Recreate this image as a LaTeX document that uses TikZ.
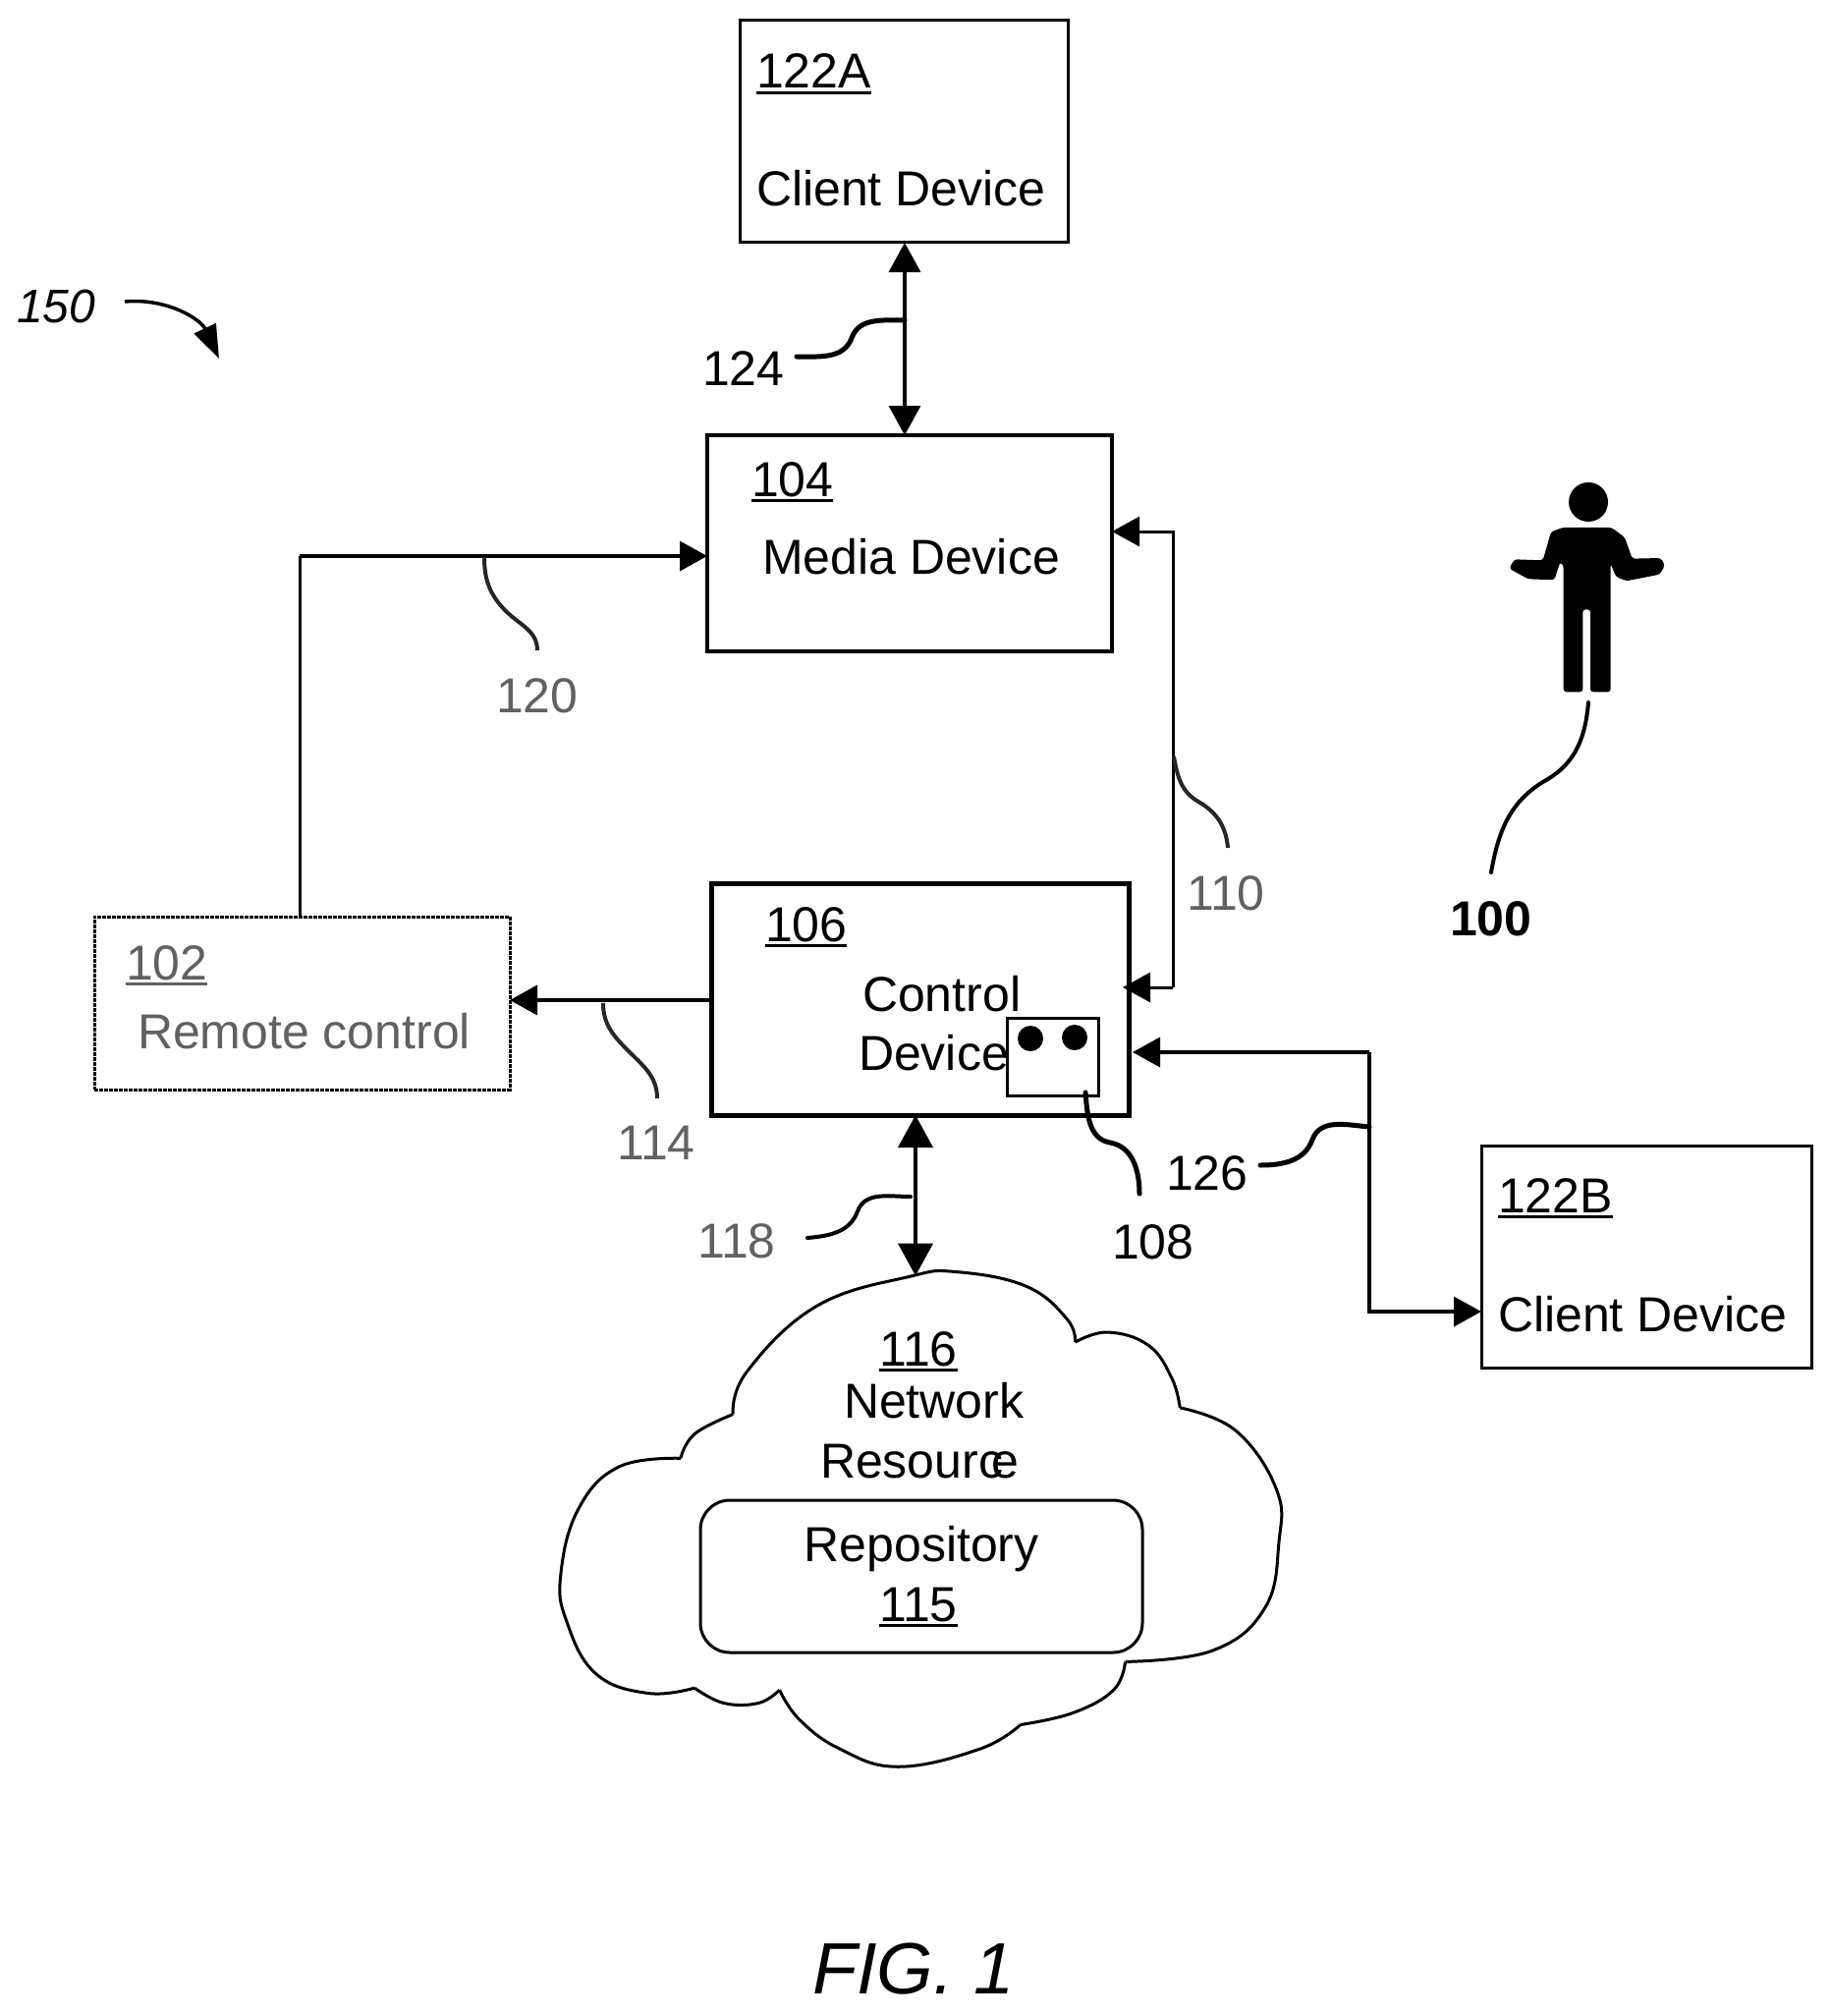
\documentclass[tikz,border=0pt]{standalone}
\usepackage{fontspec}
\setmainfont{Liberation Sans}
\usetikzlibrary{arrows.meta}
\newcommand\ulnum[1]{\setbox0\hbox{#1}\rlap{\rule[-6pt]{\wd0}{3pt}}\box0}
\tikzset{
  boxa/.style={draw=black,line width=3pt,anchor=north west,inner sep=0pt,outer sep=0pt},
  boxb/.style={boxa,line width=4pt},
  boxc/.style={boxa,line width=5pt},
  boxd/.style={boxa,line width=3pt,dash pattern=on 4pt off 1pt},
  txt/.style={anchor=base west,inner sep=0pt,outer sep=0pt,xshift=-3pt,yshift=3pt,font=\fontsize{50}{50}\selectfont},
  txtc/.style={txt,anchor=base},
  grain/.style={text=black!62},
  wire/.style={draw=black,line width=3pt},
  tip/.style={-{Triangle[length=28pt,width=30pt]}},
  tips/.style={{Triangle[length=30pt,width=32pt]}-{Triangle[length=30pt,width=32pt]}},
  lead/.style={draw=black,line width=5pt,line cap=round},
  leadg/.style={draw=black!85,line width=4pt},
  cloudline/.style={draw=black,line width=3pt,line join=round}
}
\begin{document}
\begin{tikzpicture}[x=1pt,y=-1pt]
\useasboundingbox (0,0) rectangle (1863,2052);
% boxes
\node[boxa,minimum width=334pt,minimum height=226pt] (c122a) at (753,21) {};
\node[boxb,minimum width=412pt,minimum height=220pt] (d104) at (720,443) {};
\node[boxc,minimum width=425pt,minimum height=236pt] (d106) at (724,899) {};
\node[boxd,minimum width=423pt,minimum height=176pt] (d102) at (96,933) {};
\node[boxa,minimum width=336pt,minimum height=226pt] (c122b) at (1508,1166) {};
\node[boxa,minimum width=93pt,minimum height=79pt] (d108) at (1025,1036) {};
\node[boxa,rounded corners=30pt,minimum width=450pt,minimum height=155pt] (repo) at (713,1527) {};
\fill (1049,1057) circle (13pt) (1094,1056) circle (13pt);
% texts
\node[txt] (t122a) at (773,93) {\ulnum{122A}};
\node[txt] (t122al) at (773,213) {Client Device};
\node[txt] (t104) at (768,508) {\ulnum{104}};
\node[txt] (t104l) at (779,587) {Media Device};
\node[txt] (t106) at (782,961) {\ulnum{106}};
\node[txt] (t106a) at (881,1032) {Control};
\node[txt] (t106b) at (877,1092) {Device};
\node[txt,grain] (t102) at (131,1000) {\ulnum{102}};
\node[txt,grain] (t102l) at (143,1070) {Remote control};
\node[txt] (t122b) at (1528,1237) {\ulnum{122B}};
\node[txt] (t122bl) at (1528,1358) {Client Device};
\node[txt] (t116) at (898,1393) {\ulnum{116}};
\node[txt] (t116a) at (862,1446) {Network};
\node[txt] (t116b) at (838,1507) {Resourc\kern-12pt e};
\node[txtc] (t115a) at (941,1592) {Repository};
\node[txt] (t115) at (898,1653) {\ulnum{115}};
\node[txt,font=\fontsize{48}{48}\selectfont\itshape] (t150) at (20,331) {150};
\node[txt] (t124) at (718,395) {124};
\node[txt,grain] (t120) at (508,728) {120};
\node[txt,grain] (t110) at (1211,929) {110};
\node[txt,font=\fontsize{50}{50}\selectfont\bfseries] (t100) at (1479,955) {100};
\node[txt,grain] (t114) at (631,1183) {114};
\node[txt] (t126) at (1190,1214) {126};
\node[txt] (t108) at (1135,1284) {108};
\node[txt,grain] (t118) at (713,1283) {118};
\node[txt,font=\fontsize{74}{74}\selectfont\itshape] (tfig) at (830,2032) {FIG. 1};
% cloud
\begin{scope}[shift={(2,1002)},x=1.185pt,y=-0.668pt]
\draw[cloudline] plot[smooth,tension=.7] coordinates {(628,655)(640,590)(700,490)(780,445)(820,438)(880,460)(915,510)(922,545)};
\draw[cloudline] plot[smooth,tension=.7] coordinates {(922,545)(950,530)(985,550)(1005,600)(1012,645)};
\draw[cloudline] plot[smooth,tension=.7] coordinates {(1012,645)(1060,680)(1095,770)(1097,850)(1085,950)(1040,1015)(965,1032)};
\draw[cloudline] plot[smooth,tension=.7] coordinates {(965,1032)(955,1075)(920,1110)(875,1128)};
\draw[cloudline] plot[smooth,tension=.7] coordinates {(875,1128)(840,1165)(770,1192)(720,1165)(685,1120)(668,1075)};
\draw[cloudline] plot[smooth,tension=.7] coordinates {(668,1075)(650,1095)(620,1095)(595,1072)};
\draw[cloudline] plot[smooth,tension=.7] coordinates {(595,1072)(555,1080)(510,1050)(485,970)(480,900)(495,800)(530,735)(583,722)};
\draw[cloudline] plot[smooth,tension=.7] coordinates {(583,722)(595,685)(628,655)};
\coordinate (cloudtop) at (784,444);
\end{scope}
% connectors
\coordinate (a122) at (921,247);
\draw[wire,line width=3.5pt,tips] (c122a.south -| a122) -- (d104.north -| a122);
\coordinate (r1) at (305,566);
\draw[wire] (d102.north -| r1) -- (r1);
\draw[wire,line width=3.5pt,tip] (r1) -- (d104.west |- r1);
\coordinate (f1) at (1194,541);
\coordinate (f2) at (1194,1005);
\coordinate (f3) at (1143,1005);
\draw[wire,tip] (f2) -- (f3);
\draw[wire,tip] (f2) -- (f1) -- (f1 -| d104.east);
\coordinate (q1) at (724,1018);
\draw[wire,line width=3.5pt,tip] (q1) -- (q1 -| d102.east);
\coordinate (n1) at (932,1136);
\draw[wire,line width=4pt,{Triangle[length=33pt,width=35pt]}-{Triangle[length=33pt,width=35pt]}] (d106.south -| n1) -- (cloudtop -| n1);
\coordinate (k1) at (1394,1071);
\coordinate (k2) at (1394,1335);
\coordinate (k0) at (1153,1071);
\draw[wire,line width=3.5pt,tip] (k1) -- (k0);
\draw[wire,line width=3.5pt,tip] (k1) -- (k2) -- (k2 -| c122b.west);
% leaders
\coordinate (l124a) at (921,326); \coordinate (l124b) at (867,344); \coordinate (l124c) at (811,363);
\draw[lead] (l124a) to[out=180,in=70] (l124b) to[out=250,in=0] (l124c);
\coordinate (l120a) at (493,567); \coordinate (l120b) at (515,622); \coordinate (l120c) at (547,662);
\draw[leadg] (l120a) to[out=-90,in=135] (l120b) to[out=-45,in=90] (l120c);
\coordinate (l110a) at (1195,770); \coordinate (l110b) at (1220,816); \coordinate (l110c) at (1250,863);
\draw[leadg] (l110a) to[out=-80,in=150] (l110b) to[out=-30,in=95] (l110c);
\coordinate (l100a) at (1617,715); \coordinate (l100b) at (1574,794); \coordinate (l100c) at (1518,888);
\draw[lead,line width=4pt] (l100a) to[out=-95,in=30] (l100b) to[out=210,in=80] (l100c);
\coordinate (l114a) at (614,1021); \coordinate (l114b) at (639,1069); \coordinate (l114c) at (669,1118);
\draw[leadg] (l114a) to[out=-90,in=135] (l114b) to[out=-45,in=90] (l114c);
\coordinate (l108a) at (1105,1112); \coordinate (l108b) at (1130,1163); \coordinate (l108c) at (1160,1215);
\draw[lead] (l108a) to[out=-85,in=170] (l108b) to[out=-10,in=90] (l108c);
\coordinate (l126a) at (1394,1147); \coordinate (l126b) at (1336,1160); \coordinate (l126c) at (1283,1186);
\draw[lead] (l126a) to[out=175,in=70] (l126b) to[out=250,in=0] (l126c);
\coordinate (l118a) at (927,1218); \coordinate (l118b) at (873,1233); \coordinate (l118c) at (822,1260);
\draw[lead,line width=4pt] (l118a) to[out=180,in=70] (l118b) to[out=250,in=5] (l118c);
\coordinate (l150a) at (127,307); \coordinate (l150b) at (223,365);
\draw[wire,line width=3.5pt,-{Triangle[length=34pt,width=24pt]}] (l150a) to[out=5,in=115] (l150b);
% person
\fill (1617,511) circle (20pt);
\begin{scope}[shift={(1499,472)},x=0.3333pt,y=-0.3333pt]
\fill[rounded corners=3pt] (275,195) -- (425,195) -- (465,225) -- (488,290) -- (575,288) -- (588,310) -- (572,338) -- (470,358) -- (438,345) -- (422,305) -- (422,697) -- (360,697) -- (360,445) -- (337,445) -- (337,697) -- (278,697) -- (278,310) -- (268,300) -- (250,355) -- (170,352) -- (112,320) -- (128,292) -- (215,295) -- (240,208) -- cycle;
\end{scope}
\end{tikzpicture}
\end{document}
